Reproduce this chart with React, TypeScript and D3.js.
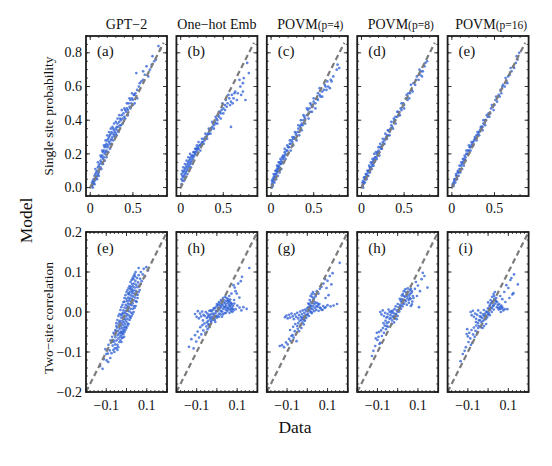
import React from "react";
import * as d3 from "d3";

type P = [number, number];

const columnTitles = ["GPT−2", "One−hot Emb", "POVM", "POVM", "POVM"];
const titleSubs = ["", "", "(p=4)", "(p=8)", "(p=16)"];
const topLetters = ["(a)", "(b)", "(c)", "(d)", "(e)"];
const bottomLetters = ["(e)", "(h)", "(g)", "(h)", "(i)"];
const topYTicks = [0, 0.2, 0.4, 0.6, 0.8];
const topXTicks = [0, 0.5];
const botYTicks = [-0.2, -0.1, 0, 0.1, 0.2];
const botXTicks = [-0.1, 0.1];
const topDomain: P = [-0.05, 0.9];
const botDomain: P = [-0.2, 0.2];
const topDiag: P = [-0.005, 0.86];
const botDiag: P = [-0.2, 0.2];

// ---- single site probability (data, model) ----
const gpt2Single: P[] = [
  [0.01,0.01],[0.02,0.01],[0.02,0.03],[0.03,0.02],[0.03,0.04],[0.04,0.03],[0.04,0.05],[0.05,0.04],[0.05,0.07],[0.06,0.05],
  [0.06,0.08],[0.07,0.06],[0.07,0.09],[0.08,0.07],[0.08,0.10],[0.09,0.08],[0.09,0.12],[0.10,0.09],[0.10,0.13],[0.11,0.11],
  [0.11,0.14],[0.12,0.12],[0.12,0.16],[0.13,0.15],[0.13,0.18],[0.14,0.14],[0.14,0.19],[0.15,0.17],[0.15,0.21],[0.16,0.18],
  [0.16,0.22],[0.17,0.20],[0.17,0.24],[0.18,0.21],[0.18,0.25],[0.19,0.22],[0.19,0.26],[0.20,0.24],[0.20,0.28],[0.21,0.25],
  [0.21,0.29],[0.22,0.27],[0.22,0.30],[0.23,0.26],[0.23,0.31],[0.24,0.28],[0.24,0.32],[0.25,0.29],[0.25,0.33],[0.26,0.30],
  [0.27,0.32],[0.27,0.35],[0.28,0.31],[0.28,0.34],[0.29,0.33],[0.30,0.35],[0.30,0.32],[0.31,0.36],[0.32,0.34],[0.32,0.38],
  [0.33,0.36],[0.34,0.39],[0.35,0.37],[0.35,0.41],[0.36,0.40],[0.37,0.43],[0.38,0.41],[0.39,0.44],[0.40,0.42],[0.41,0.46],
  [0.42,0.45],[0.43,0.47],[0.44,0.46],[0.45,0.50],[0.46,0.48],[0.47,0.52],[0.48,0.50],[0.49,0.53],[0.50,0.52],[0.51,0.55],
  [0.52,0.50],[0.53,0.56],[0.54,0.68],[0.55,0.58],[0.57,0.60],[0.60,0.63],[0.62,0.64],[0.62,0.69],[0.66,0.72],[0.70,0.70],
  [0.72,0.73],[0.75,0.75],[0.77,0.76],[0.80,0.84],[0.82,0.82],
  [0.03,0.00],[0.05,0.02],[0.06,0.11],[0.08,0.05],[0.09,0.15],[0.10,0.07],[0.12,0.19],[0.13,0.11],[0.14,0.22],[0.15,0.14],
  [0.16,0.25],[0.17,0.16],[0.18,0.28],[0.19,0.18],[0.20,0.31],[0.21,0.21],[0.22,0.33],[0.23,0.23],[0.24,0.35],[0.25,0.26],
  [0.26,0.36],[0.27,0.28],[0.28,0.38],[0.29,0.30],[0.30,0.39],[0.31,0.31],[0.32,0.41],[0.33,0.33],[0.34,0.43],[0.36,0.37],
  [0.37,0.46],[0.38,0.38],[0.40,0.47],[0.41,0.41],[0.43,0.50],[0.44,0.43],[0.46,0.53],[0.47,0.47],[0.49,0.56],[0.50,0.49],
  [0.52,0.55],[0.55,0.53],[0.58,0.62],[0.64,0.67],[0.68,0.66],[0.73,0.78],
];
const oneHotSingle: P[] = [
  [0.01,0.02],[0.01,0.05],[0.02,0.04],[0.02,0.07],[0.03,0.06],[0.03,0.09],[0.04,0.07],[0.04,0.10],[0.05,0.08],[0.05,0.11],
  [0.06,0.09],[0.06,0.12],[0.07,0.10],[0.07,0.13],[0.08,0.11],[0.08,0.14],[0.09,0.12],[0.09,0.15],[0.10,0.13],[0.10,0.16],
  [0.11,0.14],[0.11,0.17],[0.12,0.15],[0.12,0.18],[0.13,0.16],[0.14,0.17],[0.14,0.19],[0.15,0.18],[0.16,0.19],[0.16,0.21],
  [0.17,0.20],[0.18,0.21],[0.18,0.23],[0.19,0.22],[0.20,0.23],[0.20,0.24],[0.21,0.23],[0.22,0.25],[0.23,0.25],[0.24,0.26],
  [0.25,0.27],[0.26,0.27],[0.27,0.29],[0.28,0.28],[0.29,0.30],[0.30,0.30],[0.31,0.31],[0.32,0.32],[0.33,0.32],[0.34,0.34],
  [0.35,0.34],[0.36,0.35],[0.37,0.36],[0.38,0.38],[0.39,0.37],[0.40,0.39],[0.41,0.38],[0.42,0.41],[0.43,0.40],[0.44,0.43],
  [0.45,0.42],[0.46,0.45],[0.47,0.44],[0.48,0.46],[0.49,0.50],[0.50,0.47],[0.52,0.49],[0.53,0.52],[0.55,0.50],[0.57,0.53],
  [0.59,0.36],[0.59,0.51],[0.60,0.55],[0.62,0.53],[0.64,0.57],[0.67,0.56],[0.69,0.64],[0.71,0.55],[0.73,0.62],[0.74,0.65],
  [0.76,0.52],[0.78,0.74],[0.80,0.68],
  [0.01,0.08],[0.02,0.10],[0.03,0.12],[0.04,0.04],[0.05,0.14],[0.06,0.06],[0.07,0.16],[0.08,0.08],[0.09,0.18],[0.10,0.10],
  [0.11,0.20],[0.12,0.12],[0.13,0.19],[0.14,0.14],[0.15,0.21],[0.17,0.23],[0.19,0.25],[0.21,0.27],[0.23,0.22],[0.25,0.29],
  [0.27,0.26],[0.29,0.32],[0.31,0.29],[0.33,0.35],[0.35,0.32],[0.37,0.39],[0.39,0.35],[0.41,0.42],[0.43,0.38],[0.45,0.45],
  [0.47,0.41],[0.50,0.44],[0.52,0.46],[0.54,0.48],[0.56,0.55],[0.58,0.49],[0.61,0.50],[0.63,0.56],[0.66,0.52],[0.70,0.60],
  [0.73,0.57],
];
const povm4Single: P[] = [
  [0.01,0.00],[0.01,0.02],[0.02,0.03],[0.02,0.05],[0.03,0.04],[0.03,0.06],[0.04,0.05],[0.04,0.07],[0.05,0.06],[0.05,0.08],
  [0.06,0.08],[0.06,0.10],[0.07,0.09],[0.07,0.11],[0.08,0.10],[0.08,0.12],[0.09,0.11],[0.09,0.13],[0.10,0.12],[0.10,0.15],
  [0.11,0.14],[0.12,0.14],[0.12,0.16],[0.13,0.15],[0.14,0.17],[0.14,0.19],[0.15,0.18],[0.16,0.19],[0.16,0.21],[0.17,0.20],
  [0.18,0.22],[0.19,0.22],[0.20,0.24],[0.21,0.24],[0.22,0.26],[0.23,0.26],[0.24,0.28],[0.25,0.27],[0.26,0.29],[0.27,0.30],
  [0.28,0.29],[0.29,0.32],[0.30,0.31],[0.31,0.33],[0.32,0.35],[0.33,0.33],[0.34,0.36],[0.35,0.37],[0.36,0.38],[0.37,0.37],
  [0.38,0.40],[0.39,0.42],[0.40,0.41],[0.42,0.43],[0.43,0.46],[0.44,0.44],[0.45,0.47],[0.46,0.45],[0.47,0.49],[0.49,0.48],
  [0.50,0.51],[0.52,0.50],[0.54,0.53],[0.55,0.56],[0.57,0.55],[0.58,0.54],[0.60,0.57],[0.62,0.58],[0.63,0.61],[0.65,0.58],
  [0.67,0.60],[0.70,0.64],[0.71,0.63],[0.78,0.73],[0.80,0.71],
  [0.01,0.04],[0.02,0.01],[0.03,0.08],[0.04,0.03],[0.05,0.10],[0.06,0.05],[0.07,0.13],[0.08,0.07],[0.09,0.15],[0.10,0.09],
  [0.11,0.17],[0.12,0.11],[0.13,0.18],[0.15,0.15],[0.16,0.23],[0.17,0.17],[0.19,0.25],[0.20,0.20],[0.22,0.28],[0.23,0.22],
  [0.25,0.30],[0.26,0.25],[0.28,0.33],[0.30,0.28],[0.32,0.37],[0.33,0.31],[0.35,0.40],[0.36,0.34],[0.38,0.43],[0.40,0.38],
  [0.42,0.47],[0.44,0.41],[0.46,0.50],[0.48,0.45],[0.50,0.53],[0.52,0.47],[0.55,0.52],[0.57,0.59],[0.60,0.54],[0.64,0.60],
  [0.66,0.63],[0.69,0.59],[0.73,0.66],[0.77,0.70],
];
const povm8Single: P[] = [
  [0.01,0.01],[0.02,0.02],[0.02,0.04],[0.03,0.03],[0.04,0.05],[0.04,0.06],[0.05,0.05],[0.06,0.07],[0.06,0.08],[0.07,0.07],
  [0.08,0.09],[0.08,0.10],[0.09,0.10],[0.10,0.11],[0.10,0.12],[0.11,0.12],[0.12,0.14],[0.13,0.13],[0.13,0.15],[0.14,0.16],
  [0.15,0.15],[0.15,0.17],[0.16,0.18],[0.17,0.18],[0.18,0.20],[0.19,0.19],[0.19,0.21],[0.20,0.22],[0.21,0.21],[0.22,0.24],
  [0.23,0.23],[0.24,0.25],[0.25,0.27],[0.26,0.26],[0.27,0.28],[0.28,0.29],[0.29,0.30],[0.30,0.31],[0.31,0.31],[0.32,0.34],
  [0.33,0.33],[0.34,0.35],[0.35,0.37],[0.36,0.36],[0.38,0.39],[0.39,0.40],[0.40,0.42],[0.42,0.42],[0.43,0.45],[0.44,0.43],
  [0.46,0.47],[0.47,0.46],[0.49,0.50],[0.50,0.49],[0.52,0.53],[0.54,0.52],[0.55,0.56],[0.57,0.56],[0.59,0.58],[0.61,0.62],
  [0.63,0.61],[0.65,0.66],[0.67,0.64],[0.69,0.67],[0.70,0.69],[0.72,0.69],[0.75,0.74],[0.77,0.75],
  [0.01,0.03],[0.02,0.00],[0.03,0.06],[0.04,0.03],[0.05,0.08],[0.06,0.05],[0.07,0.10],[0.08,0.07],[0.09,0.13],[0.10,0.09],
  [0.11,0.15],[0.12,0.11],[0.13,0.17],[0.14,0.13],[0.15,0.20],[0.16,0.16],[0.17,0.21],[0.18,0.17],[0.20,0.24],[0.21,0.19],
  [0.22,0.26],[0.24,0.23],[0.25,0.29],[0.27,0.26],[0.28,0.32],[0.30,0.29],[0.31,0.34],[0.33,0.31],[0.35,0.39],[0.37,0.35],
  [0.38,0.41],[0.40,0.38],[0.42,0.45],[0.45,0.43],[0.47,0.50],[0.50,0.47],[0.53,0.55],[0.56,0.53],[0.58,0.61],[0.60,0.57],
  [0.64,0.64],[0.68,0.70],[0.71,0.66],[0.74,0.72],
];
const povm16Single: P[] = [
  [0.01,0.01],[0.02,0.02],[0.02,0.03],[0.03,0.04],[0.04,0.05],[0.05,0.05],[0.05,0.07],[0.06,0.07],[0.07,0.09],[0.08,0.09],
  [0.09,0.11],[0.10,0.11],[0.11,0.13],[0.12,0.14],[0.13,0.15],[0.14,0.16],[0.15,0.17],[0.16,0.18],[0.17,0.20],[0.18,0.20],
  [0.19,0.22],[0.20,0.22],[0.21,0.24],[0.22,0.24],[0.23,0.25],[0.24,0.26],[0.25,0.27],[0.26,0.28],[0.27,0.29],[0.28,0.29],
  [0.29,0.31],[0.30,0.31],[0.31,0.32],[0.32,0.33],[0.33,0.34],[0.34,0.35],[0.35,0.36],[0.36,0.36],[0.37,0.38],[0.38,0.38],
  [0.39,0.40],[0.40,0.40],[0.42,0.42],[0.43,0.44],[0.45,0.44],[0.46,0.47],[0.48,0.48],[0.50,0.49],[0.51,0.52],[0.53,0.51],
  [0.55,0.55],[0.57,0.58],[0.58,0.56],[0.60,0.61],[0.62,0.60],[0.64,0.63],[0.66,0.66],[0.68,0.67],[0.70,0.69],[0.72,0.72],
  [0.75,0.74],[0.77,0.76],[0.79,0.80],
  [0.01,0.02],[0.02,0.01],[0.03,0.05],[0.04,0.03],[0.05,0.08],[0.06,0.05],[0.07,0.10],[0.08,0.07],[0.09,0.13],[0.10,0.09],
  [0.11,0.15],[0.12,0.11],[0.13,0.17],[0.14,0.13],[0.15,0.19],[0.16,0.16],[0.17,0.22],[0.19,0.20],[0.20,0.25],[0.22,0.22],
  [0.23,0.27],[0.25,0.25],[0.27,0.30],[0.29,0.28],[0.30,0.33],[0.32,0.31],[0.34,0.36],[0.36,0.34],[0.37,0.40],[0.39,0.37],
  [0.41,0.43],[0.44,0.42],[0.47,0.49],[0.49,0.46],[0.52,0.54],[0.56,0.54],[0.59,0.60],[0.63,0.65],[0.65,0.62],[0.69,0.71],
  [0.73,0.71],[0.76,0.78],
];

// ---- two-site correlation (data, model) ----
const gpt2Two: P[] = [
  [-0.13,-0.135],[-0.118,-0.142],[-0.112,-0.118],[-0.104,-0.093],[-0.098,-0.121],[-0.092,-0.104],[-0.089,-0.082],[-0.083,-0.096],
  [-0.079,-0.071],[-0.074,-0.103],[-0.071,-0.062],[-0.068,-0.084],[-0.064,-0.052],[-0.061,-0.074],[-0.058,-0.091],[-0.055,-0.063],
  [-0.052,-0.048],[-0.049,-0.071],[-0.047,-0.039],[-0.045,-0.082],[-0.044,-0.058],[-0.042,-0.047],[-0.04,-0.066],[-0.038,-0.031],
  [-0.037,-0.054],[-0.035,-0.075],[-0.034,-0.042],[-0.032,-0.022],[-0.031,-0.061],[-0.029,-0.036],[-0.028,-0.049],[-0.026,-0.014],
  [-0.025,-0.028],[-0.024,-0.057],[-0.022,-0.041],[-0.021,-0.006],[-0.02,-0.022],[-0.019,-0.033],[-0.017,-0.049],[-0.016,-0.012],
  [-0.015,0.004],[-0.013,-0.026],[-0.012,-0.039],[-0.011,-0.017],[-0.009,0.011],[-0.008,-0.003],[-0.007,-0.031],[-0.006,-0.019],
  [-0.004,0.018],[-0.003,0.002],[-0.002,-0.011],[-0.001,-0.024],[0.001,0.009],[0.002,-0.005],[0.003,0.027],[0.004,0.015],
  [0.005,-0.017],[0.007,0.004],[0.008,0.021],[0.009,0.036],[0.01,-0.008],[0.011,0.012],[0.013,0.029],[0.014,0.044],
  [0.015,0.001],[0.016,0.019],[0.018,0.034],[0.019,0.051],[0.02,0.008],[0.022,0.026],[0.023,0.041],[0.025,0.017],
  [0.026,0.058],[0.027,0.033],[0.029,0.047],[0.03,0.022],[0.032,0.064],[0.033,0.039],[0.035,0.054],[0.036,0.029],
  [0.038,0.071],[0.039,0.046],[0.041,0.061],[0.043,0.036],[0.044,0.078],[0.046,0.053],[0.048,0.068],[0.05,0.044],
  [0.052,0.085],[0.054,0.062],[0.057,0.074],[0.06,0.092],[0.063,0.066],[0.067,0.083],[0.071,0.1],[0.075,0.077],
  [0.08,0.094],[0.085,0.108],[0.091,0.089],[0.098,0.112],[0.106,0.104],
  [-0.036,-0.025],[-0.03,-0.052],[-0.027,-0.007],[-0.023,-0.064],[-0.018,-0.002],[-0.014,-0.045],[-0.01,0.026],[-0.005,-0.038],
  [0.0,0.033],[0.006,-0.029],[0.012,0.048],[0.017,-0.012],[0.021,0.063],[0.024,-0.002],[0.028,0.07],[0.031,0.008],
  [0.034,0.082],[0.037,0.015],[0.042,0.089],[0.047,0.027],[-0.041,-0.088],[-0.05,-0.028],[-0.056,-0.081],[0.055,0.043],[0.06,0.11],
  [-0.04,-0.01],[-0.035,-0.005],[-0.03,0.005],[-0.025,0.012],[-0.02,0.018],[-0.015,0.025],[-0.01,0.035],[-0.005,0.042],
  [0.0,0.05],[0.005,0.055],[0.01,0.06],[0.015,0.065],[0.02,0.075],[-0.045,-0.02],[-0.05,-0.035],[-0.055,-0.045],
  [-0.06,-0.055],[-0.065,-0.07],[-0.07,-0.075],[-0.03,-0.07],[-0.025,-0.075],[-0.02,-0.065],[-0.015,-0.055],[-0.01,-0.05],
  [-0.005,-0.045],[0.0,-0.04],[0.005,-0.035],[0.01,-0.03],[0.015,-0.02],[0.02,-0.015],[0.025,-0.01],[0.03,-0.005],
  [0.035,0.0],[0.04,0.01],[0.045,0.015],[0.05,0.025],[0.055,0.035],[0.06,0.05],[0.065,0.055],[0.07,0.07],
  [0.04,0.095],[0.03,0.085],[0.045,0.1],[0.035,0.09],[0.025,0.08],[-0.06,-0.1],[-0.065,-0.095],[-0.05,-0.09],
  [-0.045,-0.095],[-0.08,-0.115],[-0.09,-0.125],[-0.1,-0.105],[0.008,0.045],[-0.012,-0.062],[0.018,0.058],[-0.022,-0.052],[0.028,0.052],
];
const oneHotTwo: P[] = [
  [-0.06,-0.01],[-0.055,0.0],[-0.05,-0.015],[-0.047,-0.004],[-0.043,-0.022],[-0.04,-0.008],[-0.037,0.003],[-0.034,-0.017],
  [-0.031,-0.006],[-0.028,-0.026],[-0.026,0.002],[-0.023,-0.012],[-0.02,-0.02],[-0.018,0.006],[-0.015,-0.007],[-0.012,-0.015],
  [-0.01,0.01],[-0.007,-0.003],[-0.004,-0.011],[-0.002,0.014],[0.001,0.002],[0.003,-0.009],[0.006,0.017],[0.008,0.005],
  [0.011,-0.004],[0.013,0.021],[0.016,0.009],[0.018,-0.006],[0.021,0.013],[0.023,0.026],[0.026,0.001],[0.028,0.017],
  [0.031,0.008],[0.033,0.03],[0.036,0.012],[0.038,-0.003],[0.041,0.021],[0.043,0.006],[0.046,0.016],[0.048,0.035],
  [0.051,0.003],[0.053,0.022],[0.056,0.011],[0.059,0.028],[0.062,-0.002],[0.064,0.014],[0.067,0.007],[0.07,0.022],
  [0.073,0.01],[0.076,0.0],[0.08,0.015],
  [-0.108,-0.005],[-0.1,-0.012],[-0.094,0.002],[-0.089,-0.016],[-0.083,-0.004],[-0.078,-0.011],[-0.073,0.001],[-0.069,-0.021],[-0.066,-0.007],
  [-0.138,-0.087],[-0.126,-0.068],[-0.115,-0.091],[-0.108,-0.058],[-0.102,-0.074],[-0.095,-0.049],[-0.088,-0.064],[-0.082,-0.038],
  [-0.077,-0.056],[-0.072,-0.033],[-0.067,-0.046],[-0.062,-0.029],[-0.057,-0.052],[-0.052,-0.036],[-0.046,-0.043],[-0.042,-0.03],[-0.037,-0.038],
  [0.16,0.11],[0.124,0.088],[0.118,0.077],[0.105,0.071],[0.088,0.061],[0.082,0.067],[0.111,0.036],[0.098,0.046],
  [0.072,0.046],[0.061,0.04],[0.066,0.031],[0.055,0.027],[0.085,0.03],[0.092,0.052],
  [0.147,0.008],[0.131,0.012],[0.121,0.004],[0.112,0.011],[0.101,0.016],[0.092,0.007],[0.086,0.021],[0.082,0.004],
  [-0.035,-0.012],[-0.03,0.004],[-0.025,-0.016],[-0.02,-0.004],[-0.015,0.01],[-0.01,-0.02],[-0.005,0.003],[0.0,-0.014],
  [0.005,0.01],[0.01,-0.012],[0.015,0.016],[0.02,0.002],[0.025,0.02],[0.03,-0.006],[0.035,0.024],[0.04,0.013],
  [0.045,0.028],[0.05,0.01],[0.055,0.032],[0.06,0.018],[0.065,0.024],[0.07,0.003],[0.075,0.02],[0.045,-0.002],
  [0.02,0.03],[0.03,0.035],[0.04,0.038],[-0.045,-0.012],[-0.05,-0.026],[-0.04,-0.032],[-0.03,-0.022],[0.01,0.025],
  [0.0,0.02],[-0.008,-0.025],[0.058,0.006],[0.068,0.016],[0.078,0.008],[0.025,-0.012],
];
const povm4Two: P[] = [
  [-0.11,-0.013],[-0.103,-0.009],[-0.097,-0.016],[-0.09,-0.007],[-0.085,-0.014],[-0.078,-0.004],[-0.072,-0.011],[-0.066,-0.018],
  [-0.061,-0.006],[-0.055,-0.012],[-0.05,-0.002],[-0.045,-0.016],[-0.04,-0.008],[-0.035,0.001],[-0.031,-0.013],[-0.027,-0.005],
  [-0.023,0.004],[-0.019,-0.01],[-0.015,-0.002],[-0.011,0.006],[-0.008,-0.007],[-0.004,0.002],[0.0,0.009],[0.003,-0.004],
  [0.007,0.005],[0.011,0.013],[0.014,0.001],[0.018,0.009],[0.022,-0.003],[0.026,0.007],[0.03,0.014],[0.034,0.002],
  [0.039,0.01],[0.044,0.005],[0.05,0.013],[0.056,0.003],[0.062,0.011],[0.07,0.006],[0.078,0.015],[0.09,0.012],
  [0.1,0.017],[0.115,0.014],[0.13,0.016],[0.147,0.02],
  [0.005,0.021],[0.012,0.03],[0.018,0.025],[0.024,0.038],[0.029,0.031],[0.035,0.045],[0.041,0.039],[0.047,0.052],
  [0.055,0.046],[0.062,0.058],[0.07,0.063],[0.08,0.071],[0.088,0.082],[0.095,0.06],[0.1,0.078],[0.111,0.09],
  [0.119,0.069],[0.125,0.097],[0.16,0.123],[0.105,0.042],[0.09,0.035],
  [-0.012,-0.022],[-0.018,-0.031],[-0.024,-0.026],[-0.029,-0.04],[-0.035,-0.034],[-0.041,-0.048],[-0.047,-0.042],[-0.053,-0.073],
  [-0.056,-0.055],[-0.062,-0.048],[-0.067,-0.064],[-0.073,-0.058],[-0.078,-0.06],[-0.083,-0.072],[-0.09,-0.067],[-0.097,-0.081],
  [-0.105,-0.076],[-0.115,-0.088],[-0.125,-0.083],[-0.136,-0.085],[-0.07,-0.037],[-0.06,-0.03],[-0.085,-0.045],
  [-0.03,-0.02],[-0.02,-0.018],[-0.01,-0.012],[-0.005,-0.015],[0.0,-0.008],[0.005,0.012],[0.01,0.02],[0.015,0.016],
  [0.02,0.015],[0.025,0.022],[0.03,0.027],[0.035,0.02],[0.04,0.024],[0.045,0.015],[0.05,0.022],[0.055,0.018],
  [0.06,0.02],[0.065,0.01],[0.075,0.005],[0.085,0.01],[-0.025,-0.015],[-0.015,-0.02],[0.008,-0.01],[0.016,0.04],
  [0.022,0.045],[0.028,0.05],[0.033,0.035],[-0.045,-0.028],[-0.05,-0.035],[-0.038,-0.022],[0.01,0.005],[0.02,0.0],
];
const povm8Two: P[] = [
  [-0.086,0.0],[-0.08,-0.006],[-0.074,0.004],[-0.068,-0.01],[-0.062,-0.002],[-0.056,-0.014],[-0.05,-0.005],[-0.045,0.006],
  [-0.04,-0.017],[-0.036,-0.008],[-0.032,0.002],[-0.028,-0.021],[-0.024,-0.011],[-0.02,-0.003],[-0.016,0.007],[-0.012,-0.015],
  [-0.008,-0.006],[-0.004,0.004],[0.0,-0.01],[0.004,0.012],[0.008,0.001],[0.012,0.018],[0.016,0.008],[0.02,0.024],
  [0.024,0.014],[0.028,0.03],[0.032,0.021],[0.036,0.038],[0.04,0.027],[0.044,0.045],[0.048,0.034],[0.052,0.05],
  [0.056,0.041],[0.06,0.055],[0.064,0.033],[0.068,0.048],[0.072,0.026],[0.03,0.052],[0.038,0.057],[0.05,0.059],
  [0.02,0.041],[0.01,0.033],[0.045,0.018],[0.055,0.023],[0.065,0.015],[-0.01,0.014],[-0.03,-0.03],[0.0,0.02],
  [-0.045,-0.025],[-0.018,-0.026],
  [0.124,0.098],[0.147,0.061],[0.095,0.04],[0.07,0.019],[0.11,0.052],[0.118,0.082],[0.1,0.066],[0.085,0.058],
  [0.132,0.09],[0.09,0.075],[0.078,0.035],[0.105,0.012],
  [-0.127,-0.11],[-0.12,-0.097],[-0.111,-0.085],[-0.103,-0.052],[-0.1,-0.07],[-0.095,-0.062],[-0.09,-0.08],[-0.086,-0.077],
  [-0.082,-0.046],[-0.078,-0.06],[-0.073,-0.04],[-0.068,-0.052],[-0.064,-0.034],[-0.058,-0.043],[-0.053,-0.028],[-0.048,-0.037],
  [-0.108,-0.066],[-0.092,-0.05],
  [-0.035,-0.015],[-0.025,0.003],[-0.015,-0.01],[-0.005,-0.018],[0.005,0.005],[0.015,0.015],[0.025,0.02],[0.035,0.03],
  [0.045,0.04],[0.055,0.03],[0.06,0.045],[0.065,0.058],[0.07,0.052],[0.04,0.05],[0.03,0.04],[0.02,0.032],
  [0.01,0.01],[0.0,0.0],[-0.01,-0.005],[-0.02,-0.014],[-0.03,-0.002],[-0.04,0.0],[-0.05,-0.012],[-0.06,-0.022],
  [-0.07,-0.028],[-0.055,-0.035],[0.015,0.028],[0.025,0.045],[0.06,0.035],[0.075,0.04],
];
const povm16Two: P[] = [
  [-0.086,0.0],[-0.081,-0.008],[-0.075,0.003],[-0.07,-0.012],[-0.064,-0.004],[-0.059,-0.017],[-0.054,-0.007],[-0.049,0.004],
  [-0.045,-0.021],[-0.041,-0.011],[-0.037,-0.002],[-0.033,-0.025],[-0.029,-0.015],[-0.025,-0.006],[-0.021,0.005],[-0.017,-0.019],
  [-0.013,-0.009],[-0.009,0.001],[-0.005,-0.013],[-0.001,0.009],[0.003,-0.003],[0.007,0.015],[0.011,0.005],[0.015,0.022],
  [0.019,0.011],[0.023,0.027],[0.027,0.017],[0.031,0.033],[0.035,0.021],[0.039,0.027],[0.043,0.012],[0.048,0.018],
  [0.053,0.006],[0.058,0.013],[0.063,0.0],[0.068,0.009],[0.075,0.004],[0.082,0.007],[0.02,0.038],[0.027,0.045],
  [0.033,0.05],[0.012,0.03],[-0.01,-0.03],[-0.02,-0.035],[0.0,0.024],[-0.027,-0.04],
  [0.128,0.094],[0.147,0.069],[0.12,0.044],[0.095,0.007],[0.1,0.06],[0.08,0.05],[0.11,0.08],[0.06,0.04],
  [0.115,0.085],[0.09,0.067],[0.07,0.032],[0.105,0.035],[0.125,0.047],[0.085,0.025],
  [-0.136,-0.123],[-0.125,-0.105],[-0.116,-0.097],[-0.11,-0.088],[-0.103,-0.043],[-0.1,-0.061],[-0.097,-0.075],[-0.093,-0.052],
  [-0.088,-0.066],[-0.085,-0.082],[-0.082,-0.045],[-0.078,-0.077],[-0.074,-0.056],[-0.07,-0.039],[-0.066,-0.062],[-0.062,-0.047],
  [-0.058,-0.034],[-0.053,-0.051],[-0.049,-0.04],[-0.106,-0.055],
  [-0.035,-0.012],[-0.025,-0.022],[-0.015,-0.004],[-0.005,0.0],[0.005,0.008],[0.015,0.01],[0.025,0.015],[0.035,0.03],
  [0.045,0.025],[0.05,0.01],[0.055,0.02],[0.06,0.008],[0.065,0.016],[0.07,0.012],[0.04,0.035],[0.03,0.04],
  [0.02,0.025],[0.01,0.018],[0.0,-0.006],[-0.01,-0.017],[-0.02,-0.01],[-0.03,-0.03],[-0.04,-0.02],[-0.05,-0.028],
  [-0.06,-0.025],[-0.045,-0.035],[-0.035,-0.038],[0.008,-0.008],[0.018,0.0],[0.028,0.006],
];

const topSeries = [gpt2Single, oneHotSingle, povm4Single, povm8Single, povm16Single];
const bottomSeries = [gpt2Two, oneHotTwo, povm4Two, povm8Two, povm16Two];

const W = 552;
const H = 466;
const FONT = "'Liberation Serif', 'Times New Roman', serif";
const panelX0 = 86;
const panelStep = 90.4;
const panelW = 81;
const rows = [
  { top: 36, bottom: 196 },
  { top: 232, bottom: 392 },
];
const DOT = "#2a5cd4";

const fmtTop = (v: number) => v.toFixed(1);
const fmtBot = (v: number) => (v < 0 ? "−" : "") + Math.abs(v).toFixed(1);
const fmtTopX = (v: number) => (v === 0 ? "0" : v.toFixed(1));

function Panel(props: { i: number; row: number; data: P[]; letter: string }) {
  const { i, row, data, letter } = props;
  const left = panelX0 + i * panelStep;
  const r = rows[row];
  const dom = row === 0 ? topDomain : botDomain;
  const x = d3.scaleLinear().domain(dom).range([left, left + panelW]);
  const y = d3.scaleLinear().domain(dom).range([r.bottom, r.top]);
  const diag = row === 0 ? topDiag : botDiag;
  const xMajor = row === 0 ? [0, 0.5] : [-0.2, -0.1, 0, 0.1, 0.2];
  const xMinorStep = row === 0 ? 0.1 : 0.02;
  const yMajor = row === 0 ? topYTicks : botYTicks;
  const yMinorStep = row === 0 ? 0.05 : 0.02;
  const inside = (v: number) => v >= dom[0] - 1e-9 && v <= dom[1] + 1e-9;
  const xMinor = d3.range(Math.ceil(dom[0] / xMinorStep), Math.floor(dom[1] / xMinorStep) + 1).map((k) => k * xMinorStep).filter(inside);
  const yMinor = d3.range(Math.ceil(dom[0] / yMinorStep), Math.floor(dom[1] / yMinorStep) + 1).map((k) => k * yMinorStep).filter(inside);
  const tk = "#222";
  const ticks: any[] = [];
  xMinor.forEach((v, k) => {
    ticks.push(<line key={"xm" + k} x1={x(v)} x2={x(v)} y1={r.bottom} y2={r.bottom - 2} stroke={tk} strokeWidth={0.8} />);
    ticks.push(<line key={"xmt" + k} x1={x(v)} x2={x(v)} y1={r.top} y2={r.top + 2} stroke={tk} strokeWidth={0.8} />);
  });
  xMajor.filter(inside).forEach((v, k) => {
    ticks.push(<line key={"xM" + k} x1={x(v)} x2={x(v)} y1={r.bottom} y2={r.bottom - 4} stroke={tk} strokeWidth={0.9} />);
    ticks.push(<line key={"xMt" + k} x1={x(v)} x2={x(v)} y1={r.top} y2={r.top + 4} stroke={tk} strokeWidth={0.9} />);
  });
  yMinor.forEach((v, k) => {
    ticks.push(<line key={"ym" + k} y1={y(v)} y2={y(v)} x1={left} x2={left + 2} stroke={tk} strokeWidth={0.8} />);
    ticks.push(<line key={"ymr" + k} y1={y(v)} y2={y(v)} x1={left + panelW} x2={left + panelW - 2} stroke={tk} strokeWidth={0.8} />);
  });
  yMajor.filter(inside).forEach((v, k) => {
    ticks.push(<line key={"yM" + k} y1={y(v)} y2={y(v)} x1={left} x2={left + 4} stroke={tk} strokeWidth={0.9} />);
    ticks.push(<line key={"yMr" + k} y1={y(v)} y2={y(v)} x1={left + panelW} x2={left + panelW - 4} stroke={tk} strokeWidth={0.9} />);
  });
  const xLabels = row === 0 ? topXTicks : botXTicks;
  const clipId = `clip-${row}-${i}`;
  return (
    <g>
      <defs>
        <clipPath id={clipId}>
          <rect x={left} y={r.top} width={panelW} height={r.bottom - r.top} />
        </clipPath>
      </defs>
      <rect x={left} y={r.top} width={panelW} height={r.bottom - r.top} fill="#fff" />
      <g clipPath={`url(#${clipId})`}>
        {data.map((d, k) => (
          <circle key={k} cx={x(d[0])} cy={y(d[1])} r={1.35} fill={DOT} fillOpacity={0.75} />
        ))}
        <line
          x1={x(diag[0])}
          y1={y(diag[0])}
          x2={x(diag[1])}
          y2={y(diag[1])}
          stroke="#7c7c7c"
          strokeWidth={2.2}
          strokeDasharray="5.5 3.5"
        />
      </g>
      {ticks}
      <rect x={left} y={r.top} width={panelW} height={r.bottom - r.top} fill="none" stroke="#1c1c1c" strokeWidth={1.8} />
      <text x={left + 11} y={r.top + (row === 0 ? 20 : 21)} fontSize={15} fontFamily={FONT} fill="#111">
        {letter}
      </text>
      {xLabels.map((v, k) => (
        <text key={"xl" + k} x={x(v)} y={row === 0 ? 213 : 410} textAnchor="middle" fontSize={14} fontFamily={FONT} fill="#111">
          {row === 0 ? fmtTopX(v) : fmtBot(v)}
        </text>
      ))}
      {i === 0 &&
        yMajor.map((v, k) => (
          <text key={"yl" + k} x={left - 4} y={y(v)} dy="0.33em" textAnchor="end" fontSize={14} fontFamily={FONT} fill="#111">
            {row === 0 ? fmtTop(v) : fmtBot(v)}
          </text>
        ))}
    </g>
  );
}

export default function App() {
  return (
    <svg width={W} height={H} viewBox={`0 0 ${W} ${H}`} style={{ position: "absolute", left: 0, top: 0, background: "#fff" }}>
      <rect x={0} y={0} width={W} height={H} fill="#fff" />
      {columnTitles.map((t, i) => {
        const cx = panelX0 + i * panelStep + panelW / 2 + (i >= 2 ? 3 : 0);
        return (
          <text key={"t" + i} x={cx} y={29} textAnchor="middle" fontSize={14} fontFamily={FONT} fill="#111">
            {t}
            {titleSubs[i] && <tspan fontSize={11.5}>{titleSubs[i]}</tspan>}
          </text>
        );
      })}
      {topSeries.map((d, i) => (
        <Panel key={"top" + i} i={i} row={0} data={d} letter={topLetters[i]} />
      ))}
      {bottomSeries.map((d, i) => (
        <Panel key={"bot" + i} i={i} row={1} data={d} letter={bottomLetters[i]} />
      ))}
      <text transform={`translate(53,${(rows[0].top + rows[0].bottom) / 2}) rotate(-90)`} textAnchor="middle" fontSize={13.5} fontFamily={FONT} fill="#111">
        Single site probability
      </text>
      <text transform={`translate(53,${(rows[1].top + rows[1].bottom) / 2 + 6}) rotate(-90)`} textAnchor="middle" fontSize={13.5} fontFamily={FONT} fill="#111">
        Two−site correlation
      </text>
      <text transform="translate(32,220.5) rotate(-90)" textAnchor="middle" fontSize={17.5} fontFamily={FONT} fill="#111">
        Model
      </text>
      <text x={295} y={433} textAnchor="middle" fontSize={17.5} fontFamily={FONT} fill="#111">
        Data
      </text>
    </svg>
  );
}
